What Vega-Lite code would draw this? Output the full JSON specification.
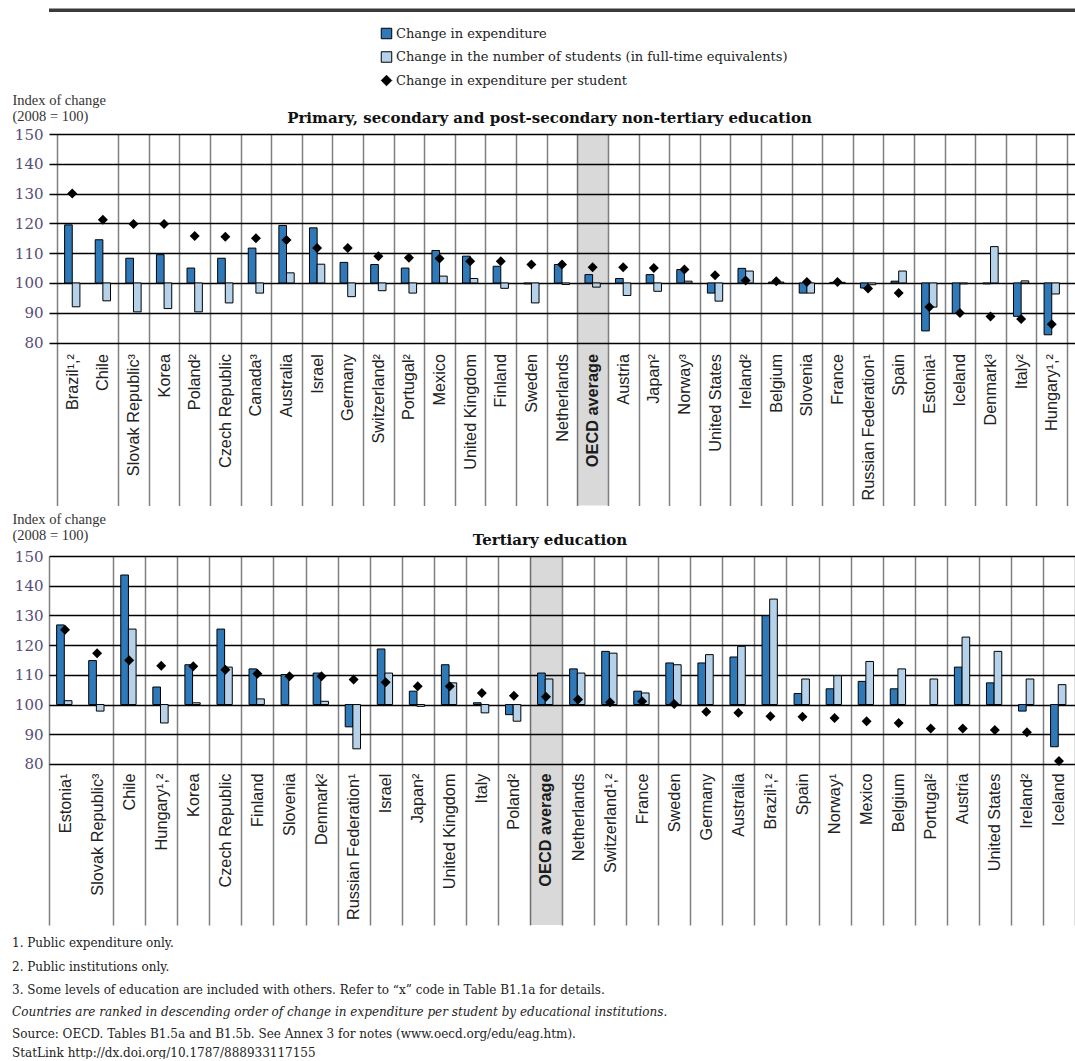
{
  "$schema": "https://vega.github.io/schema/vega-lite/v6.json",
  "autosize": {"type": "pad"},
  "padding": {"left": 12, "top": 8, "right": 0, "bottom": 0},
  "background": "white",
  "config": {"view": {"stroke": null}, "font": "DejaVu Serif"},
  "bounds": "full",
  "align": "none",
  "spacing": 5,
  "title": {
    "text": "Source: OECD. Tables B1.5a and B1.5b. See Annex 3 for notes (www.oecd.org/edu/eag.htm).",
    "subtitle": "StatLink  http://dx.doi.org/10.1787/888933117155",
    "orient": "bottom", "anchor": "start", "frame": "bounds", "offset": 11,
    "font": "DejaVu Serif", "fontSize": 12, "fontWeight": "normal", "color": "#222222",
    "subtitleFont": "DejaVu Serif", "subtitleFontSize": 12, "subtitleColor": "#222222", "subtitlePadding": 7
  },
  "datasets": {
    "top": [
      {"country": "Brazil¹,²", "exp": 119.5, "stu": 92, "per": 130},
      {"country": "Chile", "exp": 114.5, "stu": 94, "per": 121.2},
      {"country": "Slovak Republic³", "exp": 108.3, "stu": 90.3, "per": 119.8},
      {"country": "Korea", "exp": 109.5, "stu": 91.4, "per": 119.8},
      {"country": "Poland²", "exp": 105, "stu": 90.3, "per": 115.8},
      {"country": "Czech Republic", "exp": 108.3, "stu": 93.3, "per": 115.5},
      {"country": "Canada³", "exp": 111.7, "stu": 96.6, "per": 115},
      {"country": "Australia", "exp": 119.3, "stu": 103.4, "per": 114.4},
      {"country": "Israel", "exp": 118.5, "stu": 106.3, "per": 111.7},
      {"country": "Germany", "exp": 106.9, "stu": 95.4, "per": 111.7},
      {"country": "Switzerland²", "exp": 106.2, "stu": 97.4, "per": 109},
      {"country": "Portugal²", "exp": 105, "stu": 96.6, "per": 108.5},
      {"country": "Mexico", "exp": 110.9, "stu": 102.3, "per": 108.2},
      {"country": "United Kingdom", "exp": 109, "stu": 101.5, "per": 107.3},
      {"country": "Finland", "exp": 105.6, "stu": 98.2, "per": 107.3},
      {"country": "Sweden", "exp": 99.7, "stu": 93.3, "per": 106.2},
      {"country": "Netherlands", "exp": 106.2, "stu": 99.5, "per": 106.2},
      {"country": "OECD average", "exp": 102.8, "stu": 98.6, "per": 105.3},
      {"country": "Austria", "exp": 101.5, "stu": 95.8, "per": 105.3},
      {"country": "Japan²", "exp": 102.8, "stu": 97.2, "per": 105},
      {"country": "Norway³", "exp": 104.5, "stu": 100.6, "per": 104.5},
      {"country": "United States", "exp": 96.6, "stu": 93.9, "per": 102.6},
      {"country": "Ireland²", "exp": 104.9, "stu": 104, "per": 100.8},
      {"country": "Belgium", "exp": 100.3, "stu": 100.3, "per": 100.6},
      {"country": "Slovenia", "exp": 96.6, "stu": 96.6, "per": 100.3},
      {"country": "France", "exp": 100.2, "stu": 100.2, "per": 100.3},
      {"country": "Russian Federation¹", "exp": 98.3, "stu": 99.4, "per": 98.1},
      {"country": "Spain", "exp": 100.6, "stu": 104, "per": 96.6},
      {"country": "Estonia¹", "exp": 83.9, "stu": 91.9, "per": 91.9},
      {"country": "Iceland", "exp": 89.8, "stu": 99.7, "per": 89.9},
      {"country": "Denmark³", "exp": 99.7, "stu": 112.2, "per": 88.7},
      {"country": "Italy²", "exp": 88.8, "stu": 100.7, "per": 87.9},
      {"country": "Hungary¹,²", "exp": 82.6, "stu": 96.3, "per": 86.1}
    ],
    "bottom": [
      {"country": "Estonia¹", "exp": 126.8, "stu": 101.3, "per": 125.2},
      {"country": "Slovak Republic³", "exp": 114.8, "stu": 97.8, "per": 117.3},
      {"country": "Chile", "exp": 143.6, "stu": 125.4, "per": 114.9},
      {"country": "Hungary¹,²", "exp": 105.9, "stu": 93.8, "per": 113.1},
      {"country": "Korea", "exp": 113.4, "stu": 100.6, "per": 112.9},
      {"country": "Czech Republic", "exp": 125.4, "stu": 112.6, "per": 111.7},
      {"country": "Finland", "exp": 112, "stu": 101.9, "per": 110.4},
      {"country": "Slovenia", "exp": 110.1, "stu": null, "per": 109.5},
      {"country": "Denmark²", "exp": 110.6, "stu": 101.1, "per": 109.5},
      {"country": "Russian Federation¹", "exp": 92.5, "stu": 85.1, "per": 108.4},
      {"country": "Israel", "exp": 118.7, "stu": 110.6, "per": 107.5},
      {"country": "Japan²", "exp": 104.5, "stu": 99.4, "per": 106.2},
      {"country": "United Kingdom", "exp": 113.4, "stu": 107.3, "per": 106.2},
      {"country": "Italy", "exp": 100.6, "stu": 97.2, "per": 103.9},
      {"country": "Poland²", "exp": 96.6, "stu": 94.4, "per": 103},
      {"country": "OECD average", "exp": 110.6, "stu": 108.6, "per": 102.6},
      {"country": "Netherlands", "exp": 112, "stu": 110.6, "per": 101.7},
      {"country": "Switzerland¹,²", "exp": 117.9, "stu": 117.3, "per": 100.8},
      {"country": "France", "exp": 104.5, "stu": 103.9, "per": 101.1},
      {"country": "Sweden", "exp": 114, "stu": 113.4, "per": 100.2},
      {"country": "Germany", "exp": 114, "stu": 116.8, "per": 97.6},
      {"country": "Australia", "exp": 116, "stu": 119.6, "per": 97.2},
      {"country": "Brazil¹,²", "exp": 129.9, "stu": 135.5, "per": 96.1},
      {"country": "Spain", "exp": 103.7, "stu": 108.6, "per": 95.9},
      {"country": "Norway¹", "exp": 105.3, "stu": 109.7, "per": 95.5},
      {"country": "Mexico", "exp": 107.8, "stu": 114.5, "per": 94.4},
      {"country": "Belgium", "exp": 105.3, "stu": 112, "per": 93.8},
      {"country": "Portugal²", "exp": null, "stu": 108.6, "per": 91.9},
      {"country": "Austria", "exp": 112.6, "stu": 122.7, "per": 91.9},
      {"country": "United States", "exp": 107.3, "stu": 117.9, "per": 91.4},
      {"country": "Ireland²", "exp": 97.8, "stu": 108.6, "per": 90.7},
      {"country": "Iceland", "exp": 85.8, "stu": 106.7, "per": 81}
    ]
  },
  "vconcat": [
    {
      "width": 1026,
      "height": 371.5,
      "data": {"name": "top"},
      "resolve": {"axis": {"x": "independent"}},
      "layer": [
        {
          "data": {"values": [{}]},
          "mark": {"type": "rule", "color": "#3a3a3a", "strokeWidth": 3.5},
          "encoding": {"y": {"datum": 191.5, "type": "quantitative"}}
        },
        {
          "mark": {"type": "bar", "color": "black"},
          "encoding": {
            "x": {
              "field": "country", "type": "nominal", "sort": null,
              "axis": {
                "orient": "top", "labels": false, "ticks": false, "domain": false, "grid": false,
                "title": "Primary, secondary and post-secondary non-tertiary education",
                "titleX": 500, "titleY": -12, "titleAlign": "center", "titleBaseline": "alphabetic",
                "titleFont": "DejaVu Serif", "titleFontSize": 15, "titleFontWeight": "bold", "titleColor": "#111111"
              }
            },
            "opacity": {"condition": {"test": "datum.country == 'OECD average'", "value": 0.15}, "value": 0}
          }
        },
        {
          "transform": [{"fold": ["exp", "stu"], "as": ["series", "value"]}],
          "mark": {"type": "bar", "stroke": "black", "strokeWidth": 1},
          "encoding": {
            "x": {
              "field": "country", "type": "nominal", "sort": null, "title": null,
              "scale": {"paddingInner": 0, "paddingOuter": 0.26},
              "axis": {
                "orient": "bottom", "tickBand": "extent", "grid": true, "gridWidth": 1.5,
                "gridColor": {"condition": {"test": "datum.value === 'Brazil¹,²' || datum.index === 0", "value": "rgba(255,255,255,0)"}, "value": "#808080"},
                "domain": false, "ticks": false, "tickSize": 0,
                "labelAngle": 270, "labelAlign": "right", "labelBaseline": "middle", "labelPadding": -152,
                "labelFont": "Liberation Sans", "labelFontSize": 16.3, "labelColor": "#222222",
                "labelOverlap": false, "labelLimit": 300, "labelBound": false, "labelFlush": false,
                "labelFontWeight": {"condition": {"test": "datum.value == 'OECD average'", "value": "bold"}, "value": "normal"}
              }
            },
            "xOffset": {"field": "series", "type": "nominal", "scale": {"paddingInner": 0, "paddingOuter": 1.35}},
            "y": {
              "field": "value", "type": "quantitative",
              "scale": {"domain": [25.3, 150], "nice": false, "zero": false},
              "axis": {
                "values": [80, 90, 100, 110, 120, 130, 140, 150], "grid": true, "gridColor": "black", "gridWidth": 1.5,
                "ticks": false, "domain": false, "labelPadding": 6, "labelFont": "DejaVu Serif", "labelFontSize": 15, "labelColor": "#574d78",
                "title": ["Index of change", "(2008 = 100)"], "titleAngle": 0, "titleAlign": "left", "titleBaseline": "top",
                "titleX": -37, "titleY": -41, "titleFont": "Liberation Serif", "titleFontSize": 14.5, "titleFontWeight": "normal",
                "titleColor": "#333333", "titleLineHeight": 16.5
              }
            },
            "y2": {"datum": 100},
            "color": {
              "field": "series", "type": "nominal",
              "scale": {"domain": ["exp", "stu", "per"], "range": ["#2f79b9", "#b5d2ea", "#000000"]},
              "legend": {
                "title": null, "orient": "none", "legendX": 331, "legendY": -107, "direction": "vertical",
                "symbolStrokeColor": "black", "symbolStrokeWidth": 1, "symbolSize": 110, "symbolOpacity": 1,
                "labelFont": "DejaVu Serif", "labelFontSize": 13, "labelColor": "#222222", "rowPadding": 8.5, "labelOffset": 3, "labelLimit": 600,
                "labelExpr": "datum.label == 'exp' ? 'Change in expenditure' : datum.label == 'stu' ? 'Change in the number of students (in full-time equivalents)' : 'Change in expenditure per student'"
              }
            }
          }
        },
        {
          "transform": [{"fold": ["per"], "as": ["series", "value"]}],
          "mark": {"type": "point", "filled": true, "size": 100, "opacity": 1},
          "encoding": {
            "x": {"field": "country", "type": "nominal", "sort": null, "axis": null},
            "y": {"field": "value", "type": "quantitative"},
            "color": {"field": "series", "type": "nominal"},
            "shape": {
              "field": "series", "type": "nominal",
              "scale": {"domain": ["exp", "stu", "per"], "range": ["square", "square", "diamond"]},
              "legend": {
                "title": null, "orient": "none", "legendX": 331, "legendY": -107, "direction": "vertical",
                "symbolStrokeColor": "black", "symbolStrokeWidth": 1, "symbolSize": 110, "symbolOpacity": 1,
                "labelFont": "DejaVu Serif", "labelFontSize": 13, "labelColor": "#222222", "rowPadding": 8.5, "labelOffset": 3, "labelLimit": 600,
                "labelExpr": "datum.label == 'exp' ? 'Change in expenditure' : datum.label == 'stu' ? 'Change in the number of students (in full-time equivalents)' : 'Change in expenditure per student'"
              }
            }
          }
        }
      ]
    },
    {
      "width": 1026,
      "height": 369,
      "data": {"name": "bottom"},
      "resolve": {"axis": {"x": "independent"}},
      "title": {
        "text": ["1. Public expenditure only.", "2. Public institutions only.", "3. Some levels of education are included with others. Refer to “x” code in Table B1.1a for details."],
        "subtitle": "Countries are ranked in descending order of change in expenditure per student by educational institutions.",
        "orient": "bottom", "anchor": "start", "frame": "bounds", "offset": 13,
        "font": "DejaVu Serif", "fontSize": 12, "fontWeight": "normal", "color": "#222222", "lineHeight": 23.5,
        "subtitleFont": "DejaVu Serif", "subtitleFontSize": 12, "subtitleFontStyle": "italic", "subtitleColor": "#222222", "subtitlePadding": 10
      },
      "layer": [
        {
          "mark": {"type": "bar", "color": "black"},
          "encoding": {
            "x": {
              "field": "country", "type": "nominal", "sort": null,
              "axis": {
                "orient": "top", "labels": false, "ticks": false, "domain": false, "grid": false,
                "title": "Tertiary education",
                "titleX": 500.5, "titleY": -12, "titleAlign": "center", "titleBaseline": "alphabetic",
                "titleFont": "DejaVu Serif", "titleFontSize": 15, "titleFontWeight": "bold", "titleColor": "#111111"
              }
            },
            "opacity": {"condition": {"test": "datum.country == 'OECD average'", "value": 0.15}, "value": 0}
          }
        },
        {
          "transform": [{"fold": ["exp", "stu"], "as": ["series", "value"]}],
          "mark": {"type": "bar", "stroke": "black", "strokeWidth": 1},
          "encoding": {
            "x": {
              "field": "country", "type": "nominal", "sort": null, "title": null,
              "scale": {"paddingInner": 0, "paddingOuter": 0},
              "axis": {
                "orient": "bottom", "tickBand": "extent", "grid": true, "gridWidth": 1.5,
                "gridColor": {"condition": {"test": "datum.value === 'Estonia¹' || datum.index === 0", "value": "rgba(255,255,255,0)"}, "value": "#808080"},
                "domain": false, "ticks": false, "tickSize": 0,
                "labelAngle": 270, "labelAlign": "right", "labelBaseline": "middle", "labelPadding": -152,
                "labelFont": "Liberation Sans", "labelFontSize": 16.3, "labelColor": "#222222",
                "labelOverlap": false, "labelLimit": 300, "labelBound": false, "labelFlush": false,
                "labelFontWeight": {"condition": {"test": "datum.value == 'OECD average'", "value": "bold"}, "value": "normal"}
              }
            },
            "xOffset": {"field": "series", "type": "nominal", "scale": {"paddingInner": 0, "paddingOuter": 1.29}},
            "y": {
              "field": "value", "type": "quantitative",
              "scale": {"domain": [25.8, 150], "nice": false, "zero": false},
              "axis": {
                "values": [80, 90, 100, 110, 120, 130, 140, 150], "grid": true, "gridColor": "black", "gridWidth": 1.5,
                "ticks": false, "domain": false, "labelPadding": 6, "labelFont": "DejaVu Serif", "labelFontSize": 15, "labelColor": "#574d78",
                "title": ["Index of change", "(2008 = 100)"], "titleAngle": 0, "titleAlign": "left", "titleBaseline": "top",
                "titleX": -37, "titleY": -44, "titleFont": "Liberation Serif", "titleFontSize": 14.5, "titleFontWeight": "normal",
                "titleColor": "#333333", "titleLineHeight": 16.5
              }
            },
            "y2": {"datum": 100},
            "color": {"field": "series", "type": "nominal"}
          }
        },
        {
          "transform": [{"fold": ["per"], "as": ["series", "value"]}],
          "mark": {"type": "point", "filled": true, "size": 100, "opacity": 1},
          "encoding": {
            "x": {"field": "country", "type": "nominal", "sort": null, "axis": null},
            "y": {"field": "value", "type": "quantitative"},
            "color": {"field": "series", "type": "nominal"},
            "shape": {"field": "series", "type": "nominal"}
          }
        }
      ]
    }
  ]
}
